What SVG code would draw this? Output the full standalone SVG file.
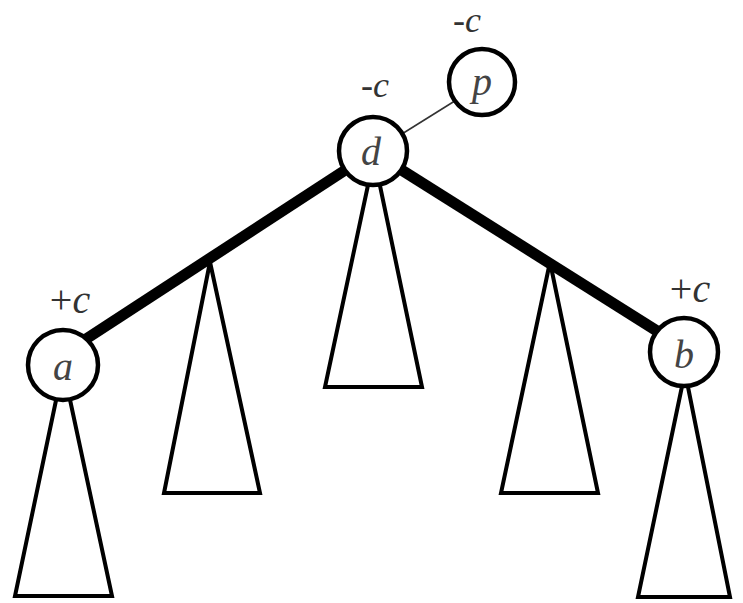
<svg xmlns="http://www.w3.org/2000/svg" width="743" height="603" viewBox="0 0 743 603">
<style>
.tri{fill:#fff;stroke:#000;stroke-width:4;stroke-linejoin:miter}
.node circle{fill:#fff;stroke:#000;stroke-width:4.5}
.nl{font-family:"Liberation Serif",serif;font-style:italic;font-size:40px;fill:#444;text-anchor:middle}
.lbl{font-family:"Liberation Serif",serif;font-size:36px;fill:#333;text-anchor:middle}
.lbl2{font-family:"Liberation Serif",serif;font-size:40px;fill:#333;text-anchor:middle}
.thick{stroke:#000;stroke-width:11;stroke-linecap:butt}
.thin{stroke:#333;stroke-width:1.6}
</style>
<rect width="743" height="603" fill="#fff"/>
<g id="subtrees">
<polygon class="tri" points="63,367 15,596 112,596"/>
<polygon class="tri" points="210,262 164,493 260,493"/>
<polygon class="tri" points="374,157 325,387 422,387"/>
<polygon class="tri" points="550,262 501,493 598,493"/>
<polygon class="tri" points="685,372 638,597 730,597"/>
</g>
<g id="connectors">
<line class="thick" x1="373" y1="152" x2="63" y2="354"/>
<line class="thick" x1="373" y1="152" x2="684" y2="348"/>
<line class="thin" x1="373" y1="152" x2="482" y2="84"/>
</g>
<g id="node-d" class="node">
<circle cx="373" cy="151" r="34"/>
<text class="nl" x="371" y="165">d</text>
<text class="lbl" x="375" y="97">-<tspan font-style="italic">c</tspan></text>
</g>
<g id="node-p" class="node">
<circle cx="482" cy="82" r="33"/>
<text class="nl" x="482" y="95">p</text>
<text class="lbl" x="467" y="32">-<tspan font-style="italic">c</tspan></text>
</g>
<g id="node-a" class="node">
<circle cx="63" cy="365" r="35"/>
<text class="nl" x="63" y="380">a</text>
<text class="lbl2" x="70" y="313">+<tspan font-style="italic">c</tspan></text>
</g>
<g id="node-b" class="node">
<circle cx="684" cy="352" r="34"/>
<text class="nl" x="684" y="368">b</text>
<text class="lbl2" x="690" y="302">+<tspan font-style="italic">c</tspan></text>
</g>
</svg>
